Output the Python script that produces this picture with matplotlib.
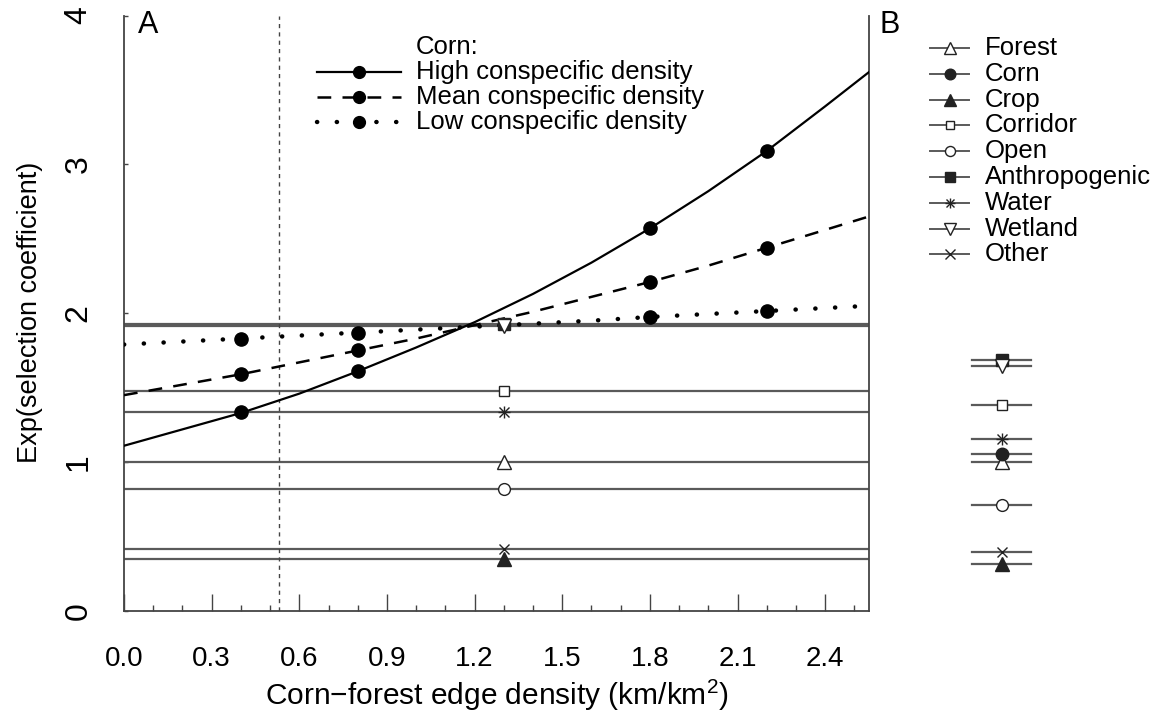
import matplotlib.pyplot as plt
from matplotlib.ticker import FixedLocator
import numpy as np

plt.rcParams['font.family'] = ['Liberation Sans', 'DejaVu Sans']
plt.rcParams['mathtext.fontset'] = 'custom'
plt.rcParams['mathtext.rm'] = 'Liberation Sans'
plt.rcParams['mathtext.it'] = 'Liberation Sans:italic'

# ---- data ----
# corn curves (exp of selection coefficient vs corn-forest edge density)
edge_x = [0.0, 0.2, 0.4, 0.6, 0.8, 1.0, 1.2, 1.4, 1.6, 1.8, 2.0, 2.2, 2.4, 2.55]
high_y = [1.11, 1.22, 1.33, 1.46, 1.61, 1.77, 1.94, 2.13, 2.34, 2.57, 2.82, 3.09, 3.39, 3.62]
mean_y = [1.45, 1.52, 1.59, 1.67, 1.75, 1.83, 1.92, 2.01, 2.11, 2.21, 2.32, 2.44, 2.56, 2.65]
low_y = [1.79, 1.81, 1.83, 1.85, 1.87, 1.89, 1.91, 1.93, 1.95, 1.975, 1.995, 2.015, 2.035, 2.05]

# highlighted points on the curves
point_x = [0.4, 0.8, 1.8, 2.2]
high_pts = [1.334, 1.61, 2.57, 3.09]
mean_pts = [1.59, 1.75, 2.21, 2.44]
low_pts = [1.83, 1.87, 1.975, 2.015]

mean_edge_density = 0.53

habitats = ['Forest', 'Corn', 'Crop', 'Corridor', 'Open', 'Anthropogenic', 'Water', 'Wetland', 'Other']
panel_a_vals = [1.00, np.nan, 0.352, 1.477, 0.817, 1.93, 1.334, 1.912, 0.416]
panel_b_vals = [0.998, 1.056, 0.313, 1.383, 0.713, 1.683, 1.156, 1.644, 0.394]

x_ticks = [0.0, 0.3, 0.6, 0.9, 1.2, 1.5, 1.8, 2.1, 2.4]
x_minor = [0.1, 0.2, 0.4, 0.5, 0.7, 0.8, 1.0, 1.1, 1.3, 1.4, 1.6, 1.7, 1.9, 2.0, 2.2, 2.3, 2.5]
y_ticks = [0, 1, 2, 3, 4]

# marker style per habitat: (marker, filled, size)
styles = {
    'Forest': ('^', False, 10),
    'Corn': ('o', True, 9),
    'Crop': ('^', True, 10),
    'Corridor': ('s', False, 7.5),
    'Open': ('o', False, 8.5),
    'Anthropogenic': ('s', True, 8),
    'Water': ('asterisk', False, 9),
    'Wetland': ('v', False, 10),
    'Other': ('x', False, 9),
}

EDGE = '#222222'
HLINE = '#5a5a5a'
AXC = '#444444'

W, H = 1172, 713
fig = plt.figure(figsize=(W / 100, H / 100), dpi=100)


def fx(px):
    return px / W


def fy(py):
    return 1 - py / H


def draw_marker(ax, x, y, name, scale=1.0, **kw):
    m, filled, ms = styles[name]
    ms = ms * scale
    if m == 'asterisk':
        ax.plot(x, y, marker='+', ms=ms, mew=1.0, color=EDGE, ls='none', **kw)
        ax.plot(x, y, marker='x', ms=ms * 0.8, mew=1.0, color=EDGE, ls='none', **kw)
    elif m == 'x':
        ax.plot(x, y, marker='x', ms=ms * 0.85, mew=1.0, color=EDGE, ls='none', **kw)
    else:
        ax.plot(x, y, marker=m, ms=ms, mew=1.0, mec=EDGE,
                mfc=EDGE if filled else 'white', ls='none', **kw)


axA = fig.add_axes([fx(124), fy(611), fx(869) - fx(124), fy(15.5) - fy(611)])
axB = fig.add_axes([fx(869), fy(611), fx(1172) - fx(869), fy(15.5) - fy(611)])

# ---- panel A ----
for name, v in zip(habitats, panel_a_vals):
    if np.isnan(v):
        continue
    axA.axhline(v, color=HLINE, lw=1.6, zorder=2)
for name, v in zip(habitats, panel_a_vals):
    if np.isnan(v):
        continue
    draw_marker(axA, 1.3, v, name, zorder=6)

axA.axvline(mean_edge_density, color=AXC, lw=1.0, ls=(0, (3, 3)), zorder=2)

axA.plot(edge_x, high_y, color='black', lw=1.6, zorder=4)
axA.plot(edge_x, mean_y, color='black', lw=1.8, ls=(0, (5.5, 4.5)), zorder=4)
axA.plot(edge_x, low_y, color='black', lw=3.2, ls=(0, (0.05, 4.4)),
         dash_capstyle='round', zorder=4)
for pts in (high_pts, mean_pts, low_pts):
    axA.plot(point_x, pts, 'o', color='black', ms=9.5, ls='none', zorder=5)

axA.set_xlim(0, 2.55)
axA.set_ylim(0, 4)
axA.patch.set_alpha(0)
axA.spines['top'].set_visible(False)
for s in ('left', 'bottom', 'right'):
    axA.spines[s].set_color(AXC)
    axA.spines[s].set_linewidth(1.3)

axA.xaxis.set_major_locator(FixedLocator(x_ticks))
axA.set_xticklabels([f'{t:.1f}' for t in x_ticks])
axA.xaxis.set_minor_locator(FixedLocator(x_minor))
axA.tick_params(axis='x', which='major', direction='in', length=12.5, width=1.0,
                color=AXC, labelsize=20, pad=25)
axA.tick_params(axis='x', which='minor', direction='in', length=4.5, width=1.0, color=AXC)
axA.set_yticks(y_ticks)
axA.tick_params(axis='y', direction='in', length=3, width=1.0, color=AXC,
                labelsize=23, pad=22)
for lab in axA.get_yticklabels():
    lab.set_rotation(90)
    lab.set_va('center')

# ---- panel B ----
axB.set_xlim(0, 1)
axB.set_ylim(0, 4)
axB.axis('off')
for name, v in zip(habitats, panel_b_vals):
    axB.plot([0.34, 0.535], [v, v], color=HLINE, lw=1.6, zorder=2)
for name, v in zip(habitats, panel_b_vals):
    draw_marker(axB, 0.438, v, name, zorder=5)

# ---- labels, legends, panel letters (placed in pixel space) ----
ov = fig.add_axes([0, 0, 1, 1])
ov.set_xlim(0, W)
ov.set_ylim(H, 0)
ov.axis('off')

ov.text(497, 705, 'Corn\u2212forest edge density (km/km$^2$)', fontsize=21.5,
        ha='center', va='baseline')
ov.text(30, 312, 'Exp(selection coefficient)', fontsize=19.5,
        rotation=90, ha='center', va='center')

ov.text(148, 25, 'A', fontsize=22, ha='center', va='center')
ov.text(890, 25, 'B', fontsize=22, ha='center', va='center')

ov.text(416, 47, 'Corn:', fontsize=18.5, va='center')
curve_legend = [
    ('High conspecific density', dict(lw=1.6, ls='-')),
    ('Mean conspecific density', dict(lw=1.8, ls=(0, (5.5, 4.5)))),
    ('Low conspecific density', dict(lw=3.2, ls=(0, (0.05, 4.4)), dash_capstyle='round')),
]
for i, (lab, kw) in enumerate(curve_legend):
    yy = 72 + 25 * i
    ov.plot([317, 401], [yy, yy], color='black', **kw)
    ov.plot(359, yy, 'o', color='black', ms=8.5)
    ov.text(416, yy, lab, fontsize=18.5, va='center')

for i, name in enumerate(habitats):
    yy = 48 + 25.8 * i
    ov.plot([930, 969], [yy, yy], color=HLINE, lw=1.4)
    draw_marker(ov, 949.6, yy, name, scale=0.85)
    ov.text(985, yy, name, fontsize=18.5, va='center')

fig.savefig('out.png', dpi=100, facecolor='white')
